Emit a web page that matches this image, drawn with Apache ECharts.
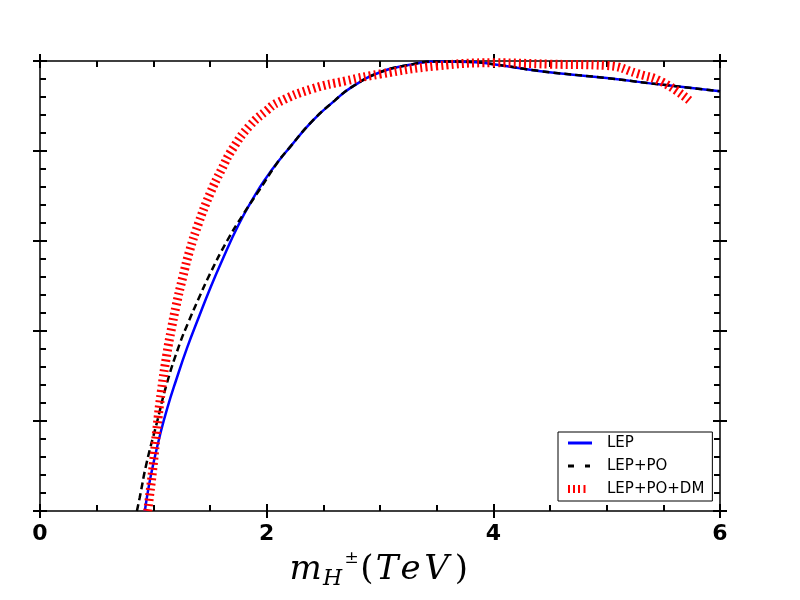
<!DOCTYPE html>
<html>
<head>
<meta charset="utf-8">
<script src="https://cdn.jsdelivr.net/npm/echarts@6/dist/echarts.min.js"></script>
<style>
html,body{margin:0;padding:0;background:#fff;}
#c{width:800px;height:600px;}
</style>
</head>
<body>
<div id="c"></div>
<script>
// ---- data ----
var xTicks = [0, 2, 4, 6];
var seriesNames = ['LEP', 'LEP+PO', 'LEP+PO+DM'];

var lepX = [0.925, 0.96, 1.0, 1.06, 1.12, 1.2, 1.3, 1.4, 1.5, 1.6, 1.75, 1.9, 2.0, 2.1, 2.2, 2.4, 2.6, 2.75, 3.0, 3.25, 3.5, 3.8, 4.0, 4.4, 5.0, 5.5, 6.0];
var lepY = [0.0, 0.055, 0.105, 0.17, 0.226, 0.29, 0.364, 0.43, 0.494, 0.553, 0.635, 0.703, 0.742, 0.776, 0.807, 0.866, 0.912, 0.942, 0.975, 0.991, 0.999, 0.998, 0.993, 0.978, 0.962, 0.947, 0.933];

var lepPoX = [0.855, 0.88, 0.94, 1.03, 1.12, 1.235, 1.31, 1.4, 1.5, 1.65, 1.79, 1.94, 2.1, 2.2, 2.4, 2.6, 2.75, 3.0, 3.25, 3.5, 3.8, 4.0, 4.4, 5.0, 5.5, 6.0];
var lepPoY = [0.0, 0.03, 0.106, 0.195, 0.284, 0.373, 0.42, 0.472, 0.527, 0.6, 0.658, 0.715, 0.776, 0.807, 0.866, 0.912, 0.942, 0.975, 0.991, 0.999, 0.998, 0.993, 0.978, 0.962, 0.947, 0.933];

var dmX = [0.95, 0.97, 1.0, 1.03, 1.07, 1.12, 1.16, 1.2, 1.26, 1.32, 1.4, 1.5, 1.6, 1.7, 1.85, 2.0, 2.1, 2.4, 2.7, 3.0, 3.5, 4.0, 4.5, 5.0, 5.27, 5.5, 5.75];
var dmY = [0.0, 0.04, 0.105, 0.18, 0.265, 0.35, 0.405, 0.455, 0.52, 0.578, 0.64, 0.705, 0.758, 0.805, 0.856, 0.89, 0.908, 0.938, 0.956, 0.971, 0.989, 0.996, 0.993, 0.99, 0.972, 0.952, 0.908];

function pairs(xs, ys) { return xs.map(function (x, i) { return [x, ys[i]]; }); }

var chart = echarts.init(document.getElementById('c'), null, {renderer: 'canvas'});

var black = '#000';
function xAx(pos, inside, showLine, labels) {
  return {
    type: 'value', position: pos, min: 0, max: 6, interval: 2,
    axisLine: {show: showLine, onZero: false, lineStyle: {color: black, width: 1.5}},
    axisTick: {show: true, inside: inside, length: 7, lineStyle: {color: black, width: 2}},
    minorTick: {show: inside, splitNumber: 4, length: 6, lineStyle: {color: black, width: 2}},
    splitLine: {show: false}, minorSplitLine: {show: false},
    axisLabel: labels ? {
      show: true, margin: 12, color: black, fontSize: 22, fontWeight: 'bold', fontFamily: 'DejaVu Sans',
      formatter: function (v) { return xTicks.indexOf(v) >= 0 ? String(v) : ''; }
    } : {show: false}
  };
}
function yAx(pos, inside, showLine) {
  return {
    type: 'value', position: pos, min: 0, max: 1, interval: 0.2,
    axisLine: {show: showLine, onZero: false, lineStyle: {color: black, width: 1.5}},
    axisTick: {show: true, inside: inside, length: 7, lineStyle: {color: black, width: 2}},
    minorTick: {show: inside, splitNumber: 5, length: 6, lineStyle: {color: black, width: 2}},
    splitLine: {show: false}, minorSplitLine: {show: false},
    axisLabel: {show: false}
  };
}

var xMain = xAx('bottom', true, true, true);
xMain.name = '{m|m}{h|H}{pm|±}{p|(}{t|T}{e|e}{v|V}{q|)}';
xMain.nameLocation = 'middle';
xMain.nameGap = 37;
var it = {fontFamily: 'DejaVu Serif', fontStyle: 'italic', fontSize: 34, lineHeight: 40, color: black};
var rm = {fontFamily: 'DejaVu Serif', fontSize: 34, lineHeight: 40, color: black};
xMain.nameTextStyle = {
  rich: {
    m: Object.assign({}, it, {width: 33}),
    h: {fontFamily: 'DejaVu Serif', fontStyle: 'italic', fontSize: 22, lineHeight: 15, verticalAlign: 'bottom', width: 21, color: black},
    pm: {fontFamily: 'DejaVu Serif', fontSize: 17, lineHeight: 33, verticalAlign: 'top', width: 17, color: black},
    p: Object.assign({}, rm, {width: 14}),
    t: Object.assign({}, it, {width: 26}),
    e: Object.assign({}, it, {width: 21}),
    v: Object.assign({}, it, {width: 31}),
    q: Object.assign({}, rm, {width: 19})
  }
};

var bbox = ' M0,0 L0,0 M24,10 L24,10';
var option = {
  backgroundColor: '#fff',
  animation: false,
  grid: {left: 40, right: 80, top: 61, bottom: 89, containLabel: false},
  xAxis: [xMain, xAx('bottom', false, false, false), xAx('top', true, true, false), xAx('top', false, false, false)],
  yAxis: [yAx('left', true, true), yAx('left', false, false), yAx('right', true, true), yAx('right', false, false)],
  legend: {
    orient: 'vertical', left: 558, top: 432,
    padding: [2, 8, 3, 10], itemGap: 5, itemWidth: 24, itemHeight: 10,
    borderColor: black, borderWidth: 1, borderRadius: 0, backgroundColor: '#fff',
    textStyle: {fontFamily: 'DejaVu Sans', fontSize: 15, lineHeight: 18, color: black, padding: [0, 0, 0, 10]},
    data: [
      {name: seriesNames[0], icon: 'path://M0,3.5 L24,3.5 L24,6.5 L0,6.5 Z' + bbox, itemStyle: {color: '#0000ff', borderWidth: 0}},
      {name: seriesNames[1], icon: 'path://M0,3.5 L6,3.5 L6,6.5 L0,6.5 Z M17,3.5 L22,3.5 L22,6.5 L17,6.5 Z' + bbox, itemStyle: {color: black, borderWidth: 0}},
      {name: seriesNames[2], icon: 'path://M0,1 L2,1 L2,9 L0,9 Z M5,1 L7,1 L7,9 L5,9 Z M10,1 L12,1 L12,9 L10,9 Z M15.5,1 L17.5,1 L17.5,9 L15.5,9 Z' + bbox, itemStyle: {color: '#ff0000', borderWidth: 0}}
    ]
  },
  series: [
    {name: seriesNames[0], type: 'line', data: pairs(lepX, lepY), symbol: 'none', smooth: 0.5,
      lineStyle: {color: '#0000ff', width: 2.5}, itemStyle: {color: '#0000ff'}, z: 2},
    {name: seriesNames[1], type: 'line', data: pairs(lepPoX, lepPoY), symbol: 'none', smooth: 0.5,
      lineStyle: {color: black, width: 2.5, type: [7, 4]}, itemStyle: {color: black}, z: 3},
    {name: seriesNames[2], type: 'line', data: pairs(dmX, dmY), symbol: 'none', smooth: 0.5,
      lineStyle: {color: '#ff0000', width: 9, type: [2, 3.2], cap: 'butt'}, itemStyle: {color: '#ff0000'}, z: 4}
  ]
};
chart.setOption(option);
</script>
</body>
</html>
